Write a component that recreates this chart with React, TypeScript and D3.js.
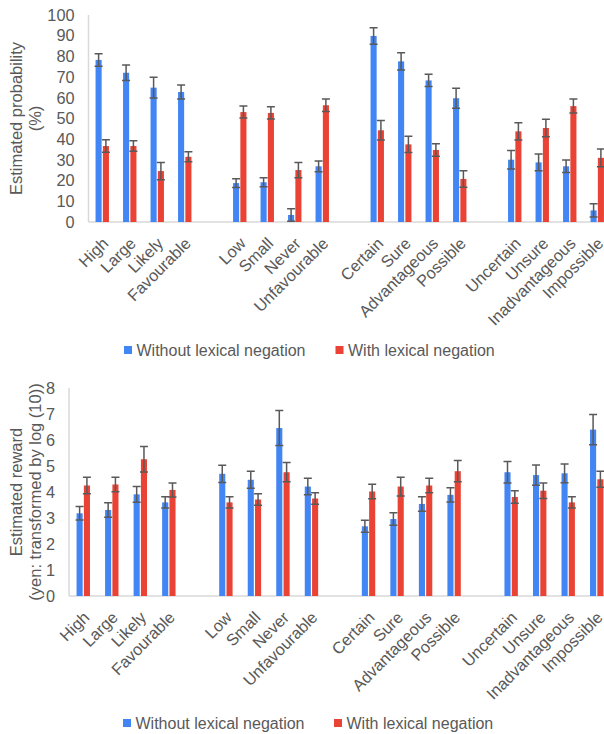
import React, { useEffect, useRef } from "react";
import * as d3 from "d3";

// categories, with an empty slot between groups
const groups = [
  ["High", "Large", "Likely", "Favourable"],
  ["Low", "Small", "Never", "Unfavourable"],
  ["Certain", "Sure", "Advantageous", "Possible"],
  ["Uncertain", "Unsure", "Inadvantageous", "Impossible"],
];
const categories = groups.flat();
const seriesNames = ["Without lexical negation", "With lexical negation"];
const colors = ["#4285F4", "#EA4335"];

// top chart: estimated probability (%)
const probWithout = [78.3, 72.1, 64.9, 62.8, 18.8, 19.2, 3.4, 26.9, 89.9, 77.6, 68.4, 59.8, 30.1, 28.8, 26.9, 5.6];
const probWithoutErr = [3, 3.8, 5, 3.4, 2.1, 2.2, 3, 2.6, 4, 4.2, 3, 4.8, 4.5, 4, 3, 3.2];
const probWith = [36.7, 36.7, 24.6, 31.5, 53.1, 52.7, 25.1, 56.4, 44.3, 37.5, 34.8, 20.8, 43.8, 45.4, 56, 31];
const probWithErr = [3, 2.5, 4.2, 2.4, 2.9, 3, 3.7, 3, 4.7, 3.9, 3, 4, 4.2, 4.2, 3.4, 4.3];
const probTicks = [0, 10, 20, 30, 40, 50, 60, 70, 80, 90, 100];

// bottom chart: estimated reward (log10 yen)
const rewardWithout = [3.18, 3.31, 3.91, 3.6, 4.7, 4.47, 6.46, 4.21, 2.68, 2.96, 3.54, 3.89, 4.76, 4.65, 4.72, 6.4];
const rewardWithoutErr = [0.26, 0.28, 0.3, 0.22, 0.33, 0.33, 0.67, 0.32, 0.23, 0.24, 0.28, 0.27, 0.41, 0.39, 0.36, 0.58];
const rewardWith = [4.25, 4.29, 5.26, 4.08, 3.6, 3.71, 4.76, 3.75, 4.02, 4.21, 4.25, 4.8, 3.81, 4.05, 3.6, 4.49];
const rewardWithErr = [0.32, 0.28, 0.49, 0.27, 0.22, 0.22, 0.37, 0.22, 0.28, 0.36, 0.28, 0.41, 0.24, 0.3, 0.22, 0.31];
const rewardTicks = [0, 1, 2, 3, 4, 5, 6, 7, 8];

const FONT = "'Liberation Sans', Arial, sans-serif";
const TEXT = "#595959";

type Panel = {
  top: number;
  base: number;
  left: number;
  right: number;
  max: number;
  ticks: number[];
  values: number[][];
  errors: number[][];
  title: string[];
  legendY: number;
  legendX: number[];
};

function drawPanel(svg: d3.Selection<SVGSVGElement, unknown, null, undefined>, p: Panel) {
  const slots: string[] = [];
  groups.forEach((g, i) => {
    if (i > 0) slots.push("gap" + i);
    slots.push(...g);
  });

  const x = d3.scaleBand().domain(slots).range([p.left, p.right]);
  const y = d3.scaleLinear().domain([0, p.max]).range([p.base, p.top]);
  const g = svg.append("g");

  // axes lines
  g.append("line")
    .attr("x1", p.left).attr("x2", p.left)
    .attr("y1", p.top).attr("y2", p.base)
    .attr("stroke", "#d9d9d9").attr("stroke-width", 1.5);
  g.append("line")
    .attr("x1", p.left).attr("x2", p.right)
    .attr("y1", p.base).attr("y2", p.base)
    .attr("stroke", "#d9d9d9").attr("stroke-width", 1.5);

  g.selectAll(".ytick")
    .data(p.ticks)
    .join("text")
    .attr("x", p.left - 14)
    .attr("y", d => y(d))
    .attr("dy", "0.35em")
    .attr("text-anchor", "end")
    .attr("font-size", 16.3)
    .attr("fill", TEXT)
    .text(d => d);

  const offsets = [-6.7, 0.6];
  p.values.forEach((vals, s) => {
    g.selectAll(".bar" + s)
      .data(categories)
      .join("rect")
      .attr("x", d => x(d)! + x.bandwidth() / 2 + offsets[s])
      .attr("width", 6.1)
      .attr("y", (d, i) => y(vals[i]))
      .attr("height", (d, i) => p.base - y(vals[i]))
      .attr("fill", colors[s]);
  });

  p.values.forEach((vals, s) => {
    categories.forEach((c, i) => {
      const cx = x(c)! + x.bandwidth() / 2 + offsets[s] + 3.05;
      const hi = y(vals[i] + p.errors[s][i]);
      const lo = y(vals[i] - p.errors[s][i]);
      g.append("path")
        .attr("d", `M${cx},${hi}V${lo}M${cx - 4},${hi}H${cx + 4}M${cx - 4},${lo}H${cx + 4}`)
        .attr("stroke", "#595959")
        .attr("stroke-width", 1.5)
        .attr("fill", "none");
    });
  });

  g.selectAll(".xlab")
    .data(categories)
    .join("text")
    .attr("transform", d => `translate(${x(d)! + x.bandwidth() / 2 + 3},${p.base + 18.5}) rotate(-45)`)
    .attr("dy", "0.35em")
    .attr("text-anchor", "end")
    .attr("font-size", 16.3)
    .attr("fill", TEXT)
    .text(d => d);

  const mid = (p.top + p.base) / 2;
  p.title.forEach((t, i) => {
    g.append("text")
      .attr("transform", "rotate(-90)")
      .attr("x", -mid)
      .attr("y", 16 + i * 19)
      .attr("dy", "0.35em")
      .attr("text-anchor", "middle")
      .attr("font-size", 16.5)
      .attr("fill", TEXT)
      .text(t);
  });

  seriesNames.forEach((name, s) => {
    g.append("rect")
      .attr("x", p.legendX[s])
      .attr("y", p.legendY - 4)
      .attr("width", 8)
      .attr("height", 8)
      .attr("fill", colors[s]);
    g.append("text")
      .attr("x", p.legendX[s] + 12.5)
      .attr("y", p.legendY)
      .attr("dy", "0.35em")
      .attr("font-size", 16)
      .attr("fill", TEXT)
      .text(name);
  });
}

export default function App() {
  const ref = useRef<SVGSVGElement>(null);

  useEffect(() => {
    const svg = d3.select(ref.current!);
    svg.selectAll("*").remove();

    drawPanel(svg, {
      top: 15, base: 222, left: 88.5, right: 611, max: 100,
      ticks: probTicks,
      values: [probWithout, probWith],
      errors: [probWithoutErr, probWithErr],
      title: ["Estimated probability", "(%)"],
      legendY: 350,
      legendX: [124, 335.5],
    });

    drawPanel(svg, {
      top: 388, base: 596, left: 69, right: 611, max: 8,
      ticks: rewardTicks,
      values: [rewardWithout, rewardWith],
      errors: [rewardWithoutErr, rewardWithErr],
      title: ["Estimated reward", "(yen: transformed by log (10))"],
      legendY: 723,
      legendX: [123, 334],
    });
  }, []);

  return (
    <svg
      ref={ref}
      width={604}
      height={734}
      style={{ position: "absolute", left: 0, top: 0, fontFamily: FONT, background: "#fff" }}
    />
  );
}
